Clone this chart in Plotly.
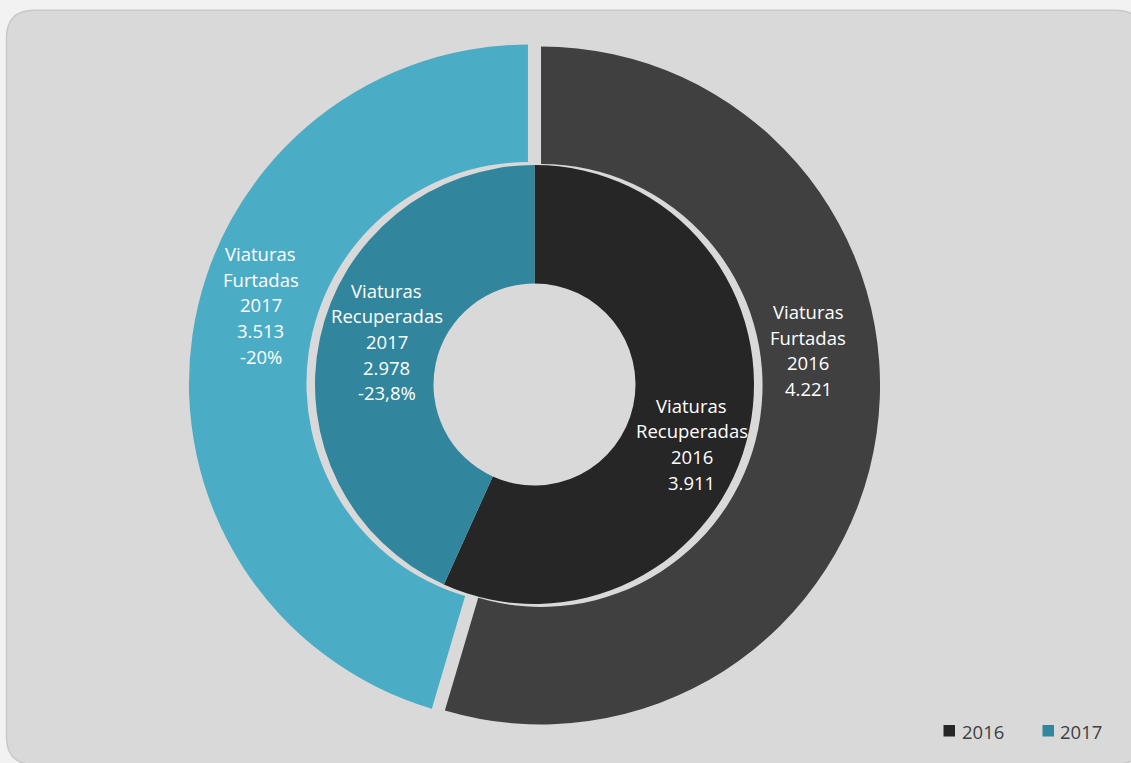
import plotly.graph_objects as go

# ---- data ----
years = ["2016", "2017"]
furtadas = [4221, 3513]          # viaturas furtadas (outer ring)
recuperadas = [3911, 2978]       # viaturas recuperadas (inner ring)
var_furtadas = [None, "-20%"]
var_recuperadas = [None, "-23,8%"]

outer_colors = ["#404040", "#4BACC6"]
inner_colors = ["#262626", "#31859C"]

# ---- geometry (pixels) ----
W, H = 1131, 763
CX, CY = 534.5, 384.5
R_OUT = 339.0
R_OUT_HOLE = 221.5
R_IN = 219.5
R_IN_HOLE = 101.0
PULL = 0.0195

FONT = "Open Sans"
FS = 18.5
LINE = 25.7


def px_x(x):
    return x / W


def px_y(y):
    return 1 - y / H


def domain(half):
    return dict(x=[px_x(CX - half), px_x(CX + half)],
                y=[px_y(CY + half), px_y(CY - half)])


def fmt(v):
    return f"{v:,}".replace(",", ".")


fig = go.Figure()

fig.add_trace(go.Pie(
    labels=years, values=furtadas, sort=False, direction="clockwise",
    rotation=0, hole=R_OUT_HOLE / R_OUT, pull=[PULL, PULL],
    marker=dict(colors=outer_colors, line=dict(width=0)),
    textinfo="none", hoverinfo="label+value", showlegend=False,
    domain=domain(R_OUT * (1 + PULL)),
))

fig.add_trace(go.Pie(
    labels=years, values=recuperadas, sort=False, direction="clockwise",
    rotation=0, hole=R_IN_HOLE / R_IN,
    marker=dict(colors=inner_colors, line=dict(width=0)),
    textinfo="none", hoverinfo="label+value", showlegend=False,
    domain=domain(R_IN),
))

# ---- slice labels, one annotation per line ----
label_pos = {
    ("Furtadas", 0): (808, 311.5),
    ("Furtadas", 1): (260.5, 253.5),
    ("Recuperadas", 0): (691.5, 405),
    ("Recuperadas", 1): (386.5, 290),
}
series = {
    "Furtadas": (furtadas, var_furtadas),
    "Recuperadas": (recuperadas, var_recuperadas),
}
annotations = []
for (name, i), (lx, ly) in label_pos.items():
    vals, var = series[name]
    lines = ["Viaturas", name, years[i], fmt(vals[i])]
    if var[i]:
        lines.append(var[i])
    for k, t in enumerate(lines):
        annotations.append(dict(
            x=px_x(lx), y=px_y(ly + k * LINE), xref="paper", yref="paper",
            text=t, showarrow=False, xanchor="center", yanchor="middle",
            font=dict(family=FONT, size=FS, color="#FFFFFF"),
        ))

# ---- legend ----
shapes = []
legend_items = [(943.5, 959.5), (1042.5, 1058.0)]
for (sx, tx), yr, col in zip(legend_items, years, inner_colors):
    shapes.append(dict(type="rect", xref="paper", yref="paper",
                       x0=px_x(sx), x1=px_x(sx + 11.5),
                       y0=px_y(736.5), y1=px_y(725),
                       fillcolor=col, line=dict(width=0)))
    annotations.append(dict(
        x=px_x(tx), y=px_y(731), xref="paper", yref="paper", text=yr,
        showarrow=False, xanchor="left", yanchor="middle",
        font=dict(family=FONT, size=FS, color="#404040"),
    ))

# ---- rounded chart area ----
x0, x1, y0, y1, rr = 6.5, 1143.0, 10.3, 764.5, 28.0


def P(x, y):
    return f"{px_x(x):.5f},{px_y(y):.5f}"


path = (f"M {P(x0 + rr, y0)} L {P(x1 - rr, y0)} Q {P(x1, y0)} {P(x1, y0 + rr)} "
        f"L {P(x1, y1 - rr)} Q {P(x1, y1)} {P(x1 - rr, y1)} "
        f"L {P(x0 + rr, y1)} Q {P(x0, y1)} {P(x0, y1 - rr)} "
        f"L {P(x0, y0 + rr)} Q {P(x0, y0)} {P(x0 + rr, y0)} Z")
shapes.insert(0, dict(type="path", xref="paper", yref="paper", path=path,
                      fillcolor="#D9D9D9", line=dict(color="#C9C9C9", width=1.5),
                      layer="below"))

fig.update_layout(
    width=W, height=H, margin=dict(l=0, r=0, t=0, b=0),
    paper_bgcolor="#F2F2F2", plot_bgcolor="#F2F2F2",
    shapes=shapes, annotations=annotations, showlegend=False,
)

fig.write_html("out.html")
